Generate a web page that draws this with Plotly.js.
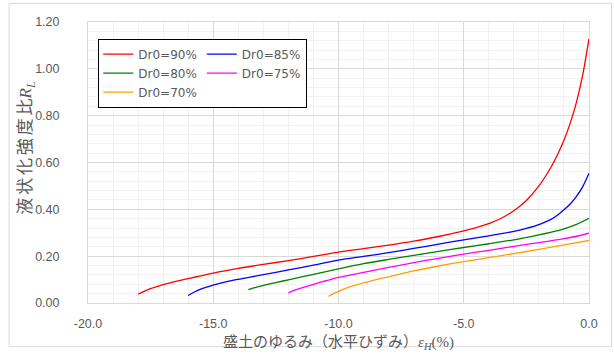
<!DOCTYPE html>
<html>
<head>
<meta charset="utf-8">
<script src="https://cdn.plot.ly/plotly-3.0.1.min.js"></script>
<style>html,body{margin:0;padding:0;background:#fff;}#chart{width:614px;height:356px;}</style>
</head>
<body>
<div id="chart"></div>
<script>
// Series names
const seriesNames = ['Dr0=90%', 'Dr0=85%', 'Dr0=80%', 'Dr0=75%', 'Dr0=70%'];

// Dr0=90%
const x90 = [-18, -17.5, -17, -16.5, -16, -15.5, -15, -14, -13, -12, -11, -10, -9, -8, -7, -6, -5, -4.5, -4, -3.5, -3, -2.5, -2, -1.5, -1.25, -1, -0.75, -0.5, -0.25, 0];
const y90 = [0.038, 0.061, 0.078, 0.092, 0.104, 0.116, 0.128, 0.148, 0.165, 0.181, 0.199, 0.217, 0.232, 0.247, 0.264, 0.284, 0.308, 0.322, 0.339, 0.362, 0.394, 0.438, 0.500, 0.583, 0.635, 0.695, 0.768, 0.858, 0.975, 1.129];

// Dr0=85%
const x85 = [-16, -15.75, -15.5, -15, -14.5, -14, -13, -12, -11, -10, -9, -8, -7, -6, -5, -4, -3, -2.5, -2, -1.5, -1.25, -1, -0.75, -0.5, -0.25, 0];
const y85 = [0.032, 0.047, 0.059, 0.076, 0.090, 0.101, 0.121, 0.141, 0.162, 0.183, 0.199, 0.215, 0.233, 0.251, 0.270, 0.287, 0.306, 0.319, 0.335, 0.358, 0.376, 0.398, 0.423, 0.455, 0.497, 0.554];

// Dr0=80%
const x80 = [-13.6, -13.3, -13, -12.5, -12, -11, -10, -9, -8, -7, -6, -5, -4, -3, -2, -1.5, -1, -0.5, 0];
const y80 = [0.057, 0.067, 0.075, 0.087, 0.099, 0.122, 0.146, 0.168, 0.186, 0.203, 0.220, 0.237, 0.253, 0.270, 0.291, 0.303, 0.317, 0.336, 0.362];

// Dr0=75%
const x75 = [-12, -11.75, -11.5, -11, -10.5, -10, -9, -8, -7, -6, -5, -4, -3, -2, -1, -0.5, 0];
const y75 = [0.043, 0.055, 0.064, 0.080, 0.095, 0.109, 0.131, 0.152, 0.172, 0.191, 0.209, 0.225, 0.242, 0.258, 0.275, 0.285, 0.298];

// Dr0=70%
const x70 = [-10.4, -10.2, -10, -9.5, -9, -8.5, -8, -7, -6, -5, -4, -3, -2, -1, 0];
const y70 = [0.028, 0.040, 0.050, 0.071, 0.086, 0.100, 0.112, 0.137, 0.158, 0.177, 0.194, 0.211, 0.229, 0.248, 0.267];

// Tick labels
const xTickVals = [-20, -15, -10, -5, 0];
const xTickText = ['-20.0', '-15.0', '-10.0', '-5.0', '0.0'];
const yTickVals = [0, 0.2, 0.4, 0.6, 0.8, 1.0, 1.2];
const yTickText = ['0.00', '0.20', '0.40', '0.60', '0.80', '1.00', '1.20'];

const xTitle = '盛土のゆるみ（水平ひずみ）<span style="font-family:\'Liberation Serif\'"><i>ε</i><sub><i>H</i></sub>(%)</span>';
const yTitle = '液\u2006状\u2006化\u2006強\u2006度\u2006比<span style="font-family:\'Liberation Serif\'"><i>R</i><sub><i>L</i></sub></span>';

const colors = ['#ff0000', '#0000ff', '#008000', '#ff00ff', '#ffa000'];
const groups = ['g1', 'g2', 'g1', 'g2', 'g1'];
const xs = [x90, x85, x80, x75, x70];
const ys = [y90, y85, y80, y75, y70];

const data = seriesNames.map((n, i) => ({
  type: 'scatter', mode: 'lines', name: n,
  x: xs[i], y: ys[i],
  legendgroup: groups[i],
  line: {color: colors[i], width: 1.3, shape: 'spline', smoothing: 0.8},
  hoverinfo: 'skip'
}));

const gridMajor = '#d9d9d9';
const gridMinor = '#f2f2f2';
const tickFont = {family: 'Liberation Sans, Arial, sans-serif', size: 12.5, color: '#595959'};

const layout = {
  width: 614, height: 356,
  margin: {l: 88, r: 24.5, t: 21.7, b: 52.7},
  paper_bgcolor: '#ffffff', plot_bgcolor: '#ffffff',
  showlegend: true,
  legend: {
    x: 0.0205, y: 0.941, xanchor: 'left', yanchor: 'top',
    orientation: 'h', traceorder: 'grouped', tracegroupgap: 0,
    bgcolor: '#ffffff', bordercolor: '#000000', borderwidth: 1,
    font: {family: 'DejaVu Sans, sans-serif', size: 12, color: '#595959'}
  },
  xaxis: {
    range: [-20, 0], tickvals: xTickVals, ticktext: xTickText,
    showgrid: true, gridcolor: gridMajor, gridwidth: 1,
    zeroline: false, showline: true, mirror: true, linecolor: gridMajor, linewidth: 1,
    ticks: '', ticklabelstandoff: 9, tickfont: tickFont,
    minor: {dtick: 1, showgrid: true, gridcolor: gridMinor, gridwidth: 1, ticks: ''},
    fixedrange: true
  },
  yaxis: {
    range: [0, 1.2], tickvals: yTickVals, ticktext: yTickText,
    showgrid: true, gridcolor: gridMajor, gridwidth: 1,
    zeroline: false, showline: true, mirror: true, linecolor: gridMajor, linewidth: 1,
    ticks: '', ticklabelstandoff: 25, tickfont: tickFont,
    minor: {dtick: 0.04, showgrid: true, gridcolor: gridMinor, gridwidth: 1, ticks: ''},
    fixedrange: true
  },
  annotations: [
    {text: xTitle, xref: 'paper', yref: 'paper', x: 0.5, y: -0.1339, xanchor: 'center', yanchor: 'middle',
     showarrow: false, font: {family: 'Noto Sans CJK JP, sans-serif', size: 15, color: '#595959'}},
    {text: yTitle, xref: 'paper', yref: 'paper', x: -0.1256, y: 0.553, xanchor: 'center', yanchor: 'middle',
     textangle: -90, showarrow: false, font: {family: 'Noto Sans CJK JP, sans-serif', size: 17, color: '#595959'}}
  ],
  shapes: [
    {type: 'rect', xref: 'paper', yref: 'paper', x0: -0.1575, x1: 1.0449, y0: -0.1552, y1: 1.0664,
     line: {color: '#d9d9d9', width: 1}, fillcolor: 'rgba(0,0,0,0)', layer: 'below'}
  ]
};

Plotly.newPlot('chart', data, layout, {displayModeBar: false, staticPlot: true});
</script>
</body>
</html>
